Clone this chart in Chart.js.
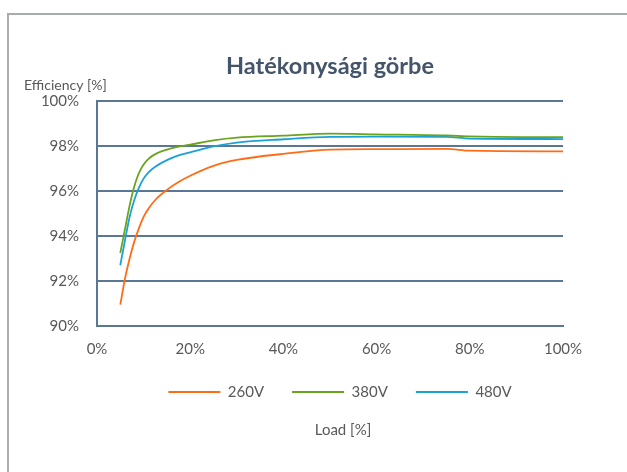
<!DOCTYPE html>
<html>
<head>
<meta charset="utf-8">
<script src="https://cdn.jsdelivr.net/npm/chart.js@4/dist/chart.umd.min.js"></script>
<style>
  html, body { margin: 0; padding: 0; background: #fff; overflow: hidden; }
  #frame { position: absolute; left: 7px; top: 13px; width: 900px; height: 900px;
           border: 2px solid #a9acaf; box-sizing: border-box; }
  #c { position: absolute; left: 0; top: 0; }
</style>
</head>
<body>
<div id="frame"></div>
<canvas id="c" width="627" height="472"></canvas>
<script>
// Load points (% of rated load)
const loads = [5, 6, 7, 8, 9, 10, 11, 12.5, 15, 17.5, 20, 25, 30, 40, 50, 60, 75, 80, 100];

// Efficiency (%) per input voltage
const eff260 = [90.95, 92.1, 93.0, 93.75, 94.35, 94.85, 95.2, 95.6, 96.05, 96.4, 96.68, 97.12, 97.38, 97.65, 97.84, 97.86, 97.87, 97.79, 97.76];
const eff380 = [93.25, 94.3, 95.35, 96.2, 96.8, 97.18, 97.42, 97.64, 97.84, 97.97, 98.06, 98.25, 98.37, 98.46, 98.55, 98.52, 98.47, 98.43, 98.39];
const eff480 = [92.7, 93.8, 94.85, 95.6, 96.15, 96.55, 96.82, 97.08, 97.37, 97.58, 97.72, 97.98, 98.15, 98.3, 98.41, 98.42, 98.41, 98.33, 98.31];

const seriesNames = ['260V', '380V', '480V'];
const seriesColors = ['#ff6c17', '#6aa31c', '#1ba1d6'];

const xTicks = [0, 20, 40, 60, 80, 100];
const yTicks = [90, 92, 94, 96, 98, 100];

const FONT = 'Lato, "Open Sans", sans-serif';
const GRID = '#5a7896';
const TEXT = '#595959';

const toPoints = ys => loads.map((x, i) => ({ x, y: ys[i] }));

// Horizontal axis captions and legend offset
const captions = {
  id: 'captions',
  afterLayout(chart) {
    if (chart.legend) { chart.legend.left += 10; chart.legend.right += 10; }
  },
  afterDraw(chart) {
    const ctx = chart.ctx;
    ctx.save();
    ctx.fillStyle = TEXT;
    ctx.textBaseline = 'middle';
    ctx.font = '14px ' + FONT;
    ctx.textAlign = 'left';
    ctx.fillText('Efficiency [%]', 24, 85);
    ctx.font = '15px ' + FONT;
    ctx.textAlign = 'center';
    ctx.fillText('Load [%]', 343, 430);
    ctx.restore();
  }
};

new Chart(document.getElementById('c'), {
  type: 'line',
  data: {
    datasets: [eff260, eff380, eff480].map((ys, i) => ({
      label: seriesNames[i],
      data: toPoints(ys),
      borderColor: seriesColors[i],
      backgroundColor: seriesColors[i],
      borderWidth: 1.8,
      pointRadius: 0,
      cubicInterpolationMode: 'monotone',
      fill: false
    }))
  },
  options: {
    responsive: false,
    animation: false,
    events: [],
    layout: { padding: { left: 0, right: 64, top: 0, bottom: 62.5 } },
    plugins: {
      title: {
        display: true,
        text: 'Hatékonysági görbe',
        fullSize: false,
        color: '#44546a',
        font: { family: FONT, size: 23.5, weight: 'bold' },
        padding: { top: 51.9, bottom: 20.9 }
      },
      legend: {
        position: 'bottom',
        fullSize: false,
        labels: {
          usePointStyle: true,
          pointStyle: 'line',
          pointStyleWidth: 52,
          padding: 28,
          color: TEXT,
          font: { family: FONT, size: 15 }
        }
      },
      tooltip: { enabled: false }
    },
    scales: {
      x: {
        type: 'linear',
        min: 0, max: 100,
        afterBuildTicks: s => { s.ticks = xTicks.map(v => ({ value: v })); },
        afterFit: s => { s.height = 30.5; },
        grid: { display: false, drawTicks: false },
        border: { display: true, color: GRID, width: 2 },
        ticks: { padding: 14, color: TEXT, font: { family: FONT, size: 15 }, callback: v => v + '%' }
      },
      y: {
        min: 90, max: 100,
        afterBuildTicks: s => { s.ticks = yTicks.map(v => ({ value: v })); },
        afterFit: s => { s.width = 97; },
        grid: { color: GRID, lineWidth: 2, drawTicks: false },
        border: { display: true, color: GRID, width: 2 },
        ticks: { padding: 18, color: TEXT, font: { family: FONT, size: 15 }, callback: v => v + '%' }
      }
    }
  },
  plugins: [captions]
});
</script>
</body>
</html>
